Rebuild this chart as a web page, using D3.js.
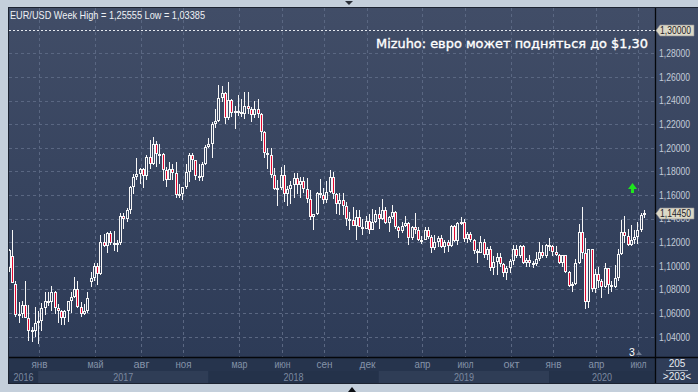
<!DOCTYPE html>
<html><head><meta charset="utf-8">
<script src="https://cdn.jsdelivr.net/npm/d3@7"></script>
<style>html,body{margin:0;padding:0;background:#c4cfdb;overflow:hidden}svg{display:block}</style>
</head><body><svg id="c" width="698" height="392"></svg>
<script>
// ---------------- DATA ----------------
const firstWeek = "2016-10-31";           // Monday of first weekly bar
const opens = [
 1.0983,1.1080,1.0850,1.0590,1.0590,1.0665,1.0560,1.0450,1.0450,
 1.0520,1.0530,1.0645,1.0700,1.0695,1.0780,1.0640,1.0615,1.0560,1.0620,1.0700,1.0740,1.0800,1.0650,1.0590,1.0615,1.0860,1.0895,1.0995,1.0930,1.1205,1.1165,1.1280,1.1195,1.1195,1.1195,1.1425,1.1400,1.1470,1.1665,1.1750,1.1775,1.1820,1.1760,1.1925,1.1860,1.2035,1.1945,1.1950,1.1815,1.1730,1.1820,1.1785,1.1600,1.1610,1.1665,1.1795,1.1935,1.1895,1.1765,1.1750,1.1860,
 1.2005,1.2030,1.2200,1.2225,1.2425,1.2460,1.2250,1.2405,1.2295,1.2310,1.2305,1.2285,1.2355,1.2325,1.2280,1.2330,1.2290,1.2130,1.1960,1.1940,1.1770,1.1655,1.1660,1.1770,1.1610,1.1655,1.1685,1.1745,1.1685,1.1720,1.1655,1.1565,1.1410,1.1440,1.1620,1.1600,1.1555,1.1625,1.1750,1.1605,1.1525,1.1560,1.1510,1.1400,1.1385,1.1340,1.1415,1.1330,1.1315,1.1380,1.1305,1.1370,
 1.1440,1.1395,1.1470,1.1365,1.1410,1.1455,1.1325,1.1295,1.1335,1.1365,1.1240,1.1325,1.1300,1.1215,1.1220,1.1300,1.1245,1.1150,1.1200,1.1235,1.1160,1.1205,1.1170,1.1335,1.1210,1.1365,1.1370,1.1225,1.1270,1.1220,1.1125,1.1110,1.1200,1.1090,1.1145,1.0985,1.1030,1.1075,1.1015,1.0940,1.0980,1.1040,1.1145,1.1080,1.1165,1.1020,1.1050,1.1020,1.1015,1.1060,1.1120,1.1080,
 1.1175,1.1165,1.1120,1.1090,1.1025,1.1090,1.0945,1.0830,1.0845,1.1025,1.1285,1.1105,1.0695,1.1140,1.0805,1.0935,1.0875,1.0820,1.0980,1.0840,1.0820,1.0900,1.1100,1.1290,1.1255,1.1180,1.1220,1.1245,1.1300,1.1430
];
const highs = [
 1.1146,1.1300,1.0870,1.0690,1.0700,1.0874,1.0670,1.0480,1.0654,
 1.0620,1.0685,1.0775,1.0775,1.0830,1.0790,1.0680,1.0630,1.0630,1.0700,1.0780,1.0905,1.0875,1.0690,1.0680,1.0780,1.0950,1.1020,1.1020,1.1265,1.1270,1.1285,1.1295,1.1295,1.1220,1.1445,1.1445,1.1490,1.1680,1.1775,1.1910,1.1830,1.1830,1.1940,1.2070,1.2090,1.2060,1.2035,1.1960,1.1835,1.1880,1.1860,1.1880,1.1690,1.1665,1.1860,1.1960,1.1960,1.1900,1.1860,1.1880,1.2020,
 1.2085,1.2215,1.2325,1.2535,1.2520,1.2475,1.2555,1.2410,1.2355,1.2445,1.2410,1.2475,1.2475,1.2345,1.2395,1.2415,1.2295,1.2145,1.1995,1.1995,1.1830,1.1725,1.1840,1.1850,1.1675,1.1720,1.1790,1.1790,1.1750,1.1750,1.1745,1.1645,1.1440,1.1625,1.1735,1.1660,1.1720,1.1815,1.1795,1.1620,1.1620,1.1620,1.1545,1.1455,1.1500,1.1475,1.1470,1.1400,1.1420,1.1440,1.1485,1.1475,
 1.1500,1.1570,1.1500,1.1420,1.1515,1.1465,1.1340,1.1370,1.1420,1.1370,1.1340,1.1450,1.1325,1.1255,1.1325,1.1325,1.1265,1.1265,1.1255,1.1265,1.1215,1.1215,1.1350,1.1350,1.1370,1.1410,1.1395,1.1285,1.1285,1.1230,1.1145,1.1250,1.1230,1.1160,1.1165,1.1085,1.1110,1.1110,1.1025,1.0995,1.1060,1.1180,1.1180,1.1175,1.1175,1.1070,1.1095,1.1045,1.1115,1.1200,1.1175,1.1185,
 1.1240,1.1180,1.1170,1.1100,1.1095,1.1095,1.0960,1.0865,1.1055,1.1355,1.1495,1.1235,1.1145,1.1145,1.0970,1.0990,1.0890,1.1020,1.0985,1.0875,1.1010,1.1145,1.1385,1.1420,1.1315,1.1350,1.1300,1.1375,1.1450,1.1470
];
const lows = [
 1.0950,1.0851,1.0570,1.0518,1.0560,1.0560,1.0367,1.0352,1.0400,
 1.0340,1.0450,1.0580,1.0660,1.0620,1.0590,1.0520,1.0495,1.0495,1.0525,1.0600,1.0730,1.0640,1.0570,1.0580,1.0600,1.0820,1.0870,1.0840,1.0920,1.1160,1.1110,1.1180,1.1130,1.1120,1.1180,1.1310,1.1370,1.1440,1.1610,1.1730,1.1690,1.1660,1.1730,1.1820,1.1850,1.1840,1.1860,1.1720,1.1670,1.1730,1.1730,1.1575,1.1575,1.1555,1.1655,1.1710,1.1810,1.1730,1.1720,1.1715,1.1850,
 1.1995,1.1915,1.2165,1.2215,1.2385,1.2205,1.2235,1.2260,1.2155,1.2270,1.2260,1.2240,1.2290,1.2215,1.2255,1.2255,1.2055,1.1910,1.1820,1.1745,1.1645,1.1510,1.1640,1.1540,1.1510,1.1525,1.1575,1.1610,1.1575,1.1615,1.1530,1.1385,1.1300,1.1430,1.1575,1.1525,1.1530,1.1620,1.1565,1.1435,1.1430,1.1430,1.1335,1.1300,1.1335,1.1215,1.1325,1.1265,1.1310,1.1270,1.1300,1.1365,
 1.1310,1.1390,1.1355,1.1290,1.1400,1.1310,1.1235,1.1275,1.1330,1.1175,1.1215,1.1270,1.1210,1.1185,1.1215,1.1225,1.1110,1.1135,1.1160,1.1155,1.1105,1.1115,1.1160,1.1205,1.1180,1.1345,1.1205,1.1195,1.1200,1.1100,1.1025,1.1105,1.1065,1.1050,1.0960,1.0925,1.0925,1.0990,1.0905,1.0880,1.0940,1.1010,1.1070,1.1070,1.1015,1.0990,1.0990,1.0980,1.1000,1.1040,1.1065,1.1065,
 1.1125,1.1085,1.1085,1.1015,1.0990,1.0940,1.0825,1.0780,1.0840,1.1015,1.1055,1.0635,1.0640,1.0780,1.0770,1.0810,1.0725,1.0810,1.0765,1.0775,1.0815,1.0870,1.1095,1.1190,1.1170,1.1170,1.1185,1.1185,1.1290,1.1405
];
const closes = [
 1.1138,1.0855,1.0588,1.0589,1.0665,1.0560,1.0450,1.0455,1.0520,
 1.0530,1.0645,1.0700,1.0695,1.0780,1.0640,1.0615,1.0560,1.0620,1.0700,1.0740,1.0800,1.0650,1.0590,1.0615,1.0725,1.0895,1.0995,1.0930,1.1205,1.1165,1.1280,1.1195,1.1195,1.1195,1.1425,1.1400,1.1470,1.1665,1.1750,1.1775,1.1820,1.1760,1.1925,1.1860,1.2035,1.1945,1.1950,1.1815,1.1730,1.1820,1.1785,1.1600,1.1610,1.1665,1.1795,1.1935,1.1895,1.1765,1.1750,1.1860,1.2005,
 1.2030,1.2200,1.2225,1.2425,1.2460,1.2250,1.2405,1.2295,1.2310,1.2305,1.2285,1.2355,1.2325,1.2280,1.2330,1.2290,1.2130,1.1960,1.1940,1.1770,1.1655,1.1660,1.1770,1.1610,1.1655,1.1685,1.1745,1.1685,1.1720,1.1655,1.1565,1.1410,1.1440,1.1620,1.1600,1.1555,1.1625,1.1750,1.1605,1.1525,1.1560,1.1510,1.1400,1.1385,1.1340,1.1415,1.1330,1.1315,1.1380,1.1305,1.1370,1.1440,
 1.1395,1.1470,1.1365,1.1410,1.1455,1.1325,1.1295,1.1335,1.1365,1.1240,1.1325,1.1300,1.1215,1.1220,1.1300,1.1245,1.1150,1.1200,1.1235,1.1160,1.1205,1.1170,1.1335,1.1210,1.1365,1.1370,1.1225,1.1270,1.1220,1.1125,1.1110,1.1200,1.1090,1.1145,1.0985,1.1030,1.1075,1.1015,1.0940,1.0980,1.1040,1.1145,1.1080,1.1165,1.1020,1.1050,1.1020,1.1015,1.1060,1.1120,1.1080,1.1175,
 1.1165,1.1120,1.1090,1.1025,1.1090,1.0945,1.0830,1.0845,1.1025,1.1285,1.1105,1.0695,1.1140,1.0805,1.0935,1.0875,1.0820,1.0980,1.0840,1.0820,1.0900,1.1100,1.1290,1.1255,1.1180,1.1220,1.1245,1.1300,1.1430,1.1445
];
const priceTicks = [1.04,1.06,1.08,1.10,1.12,1.14,1.16,1.18,1.20,1.22,1.24,1.26,1.28];
const monthTickDates = ["2017-01-02","2017-05-01","2017-08-07","2017-11-06","2018-03-05","2018-06-04","2018-09-03","2018-12-03","2019-04-01","2019-07-01","2019-10-07","2020-01-06","2020-04-06","2020-07-06"];
const monthTickLabels = ["янв","май","авг","ноя","мар","июн","сен","дек","апр","июл","окт","янв","апр","июл"];
const yearStartDates = ["2016-10-31","2017-01-02","2018-01-01","2018-12-31","2019-12-30"];
const yearLabels = ["2016","2017","2018","2019","2020"];
const targetLevel = 1.30;
const lastPrice = 1.1445;
const headerText = "EUR/USD Week High = 1,25555 Low = 1,03385";
const titleText = "Mizuho: евро может подняться до $1,30";
const barCountText = "205";
const visibleCountText = ">203<";

// ---------------- DRAW ----------------
const svg = d3.select("#c");
const parse = d3.utcParse("%Y-%m-%d");
const t0 = parse(firstWeek);
const dates = opens.map((_, i) => d3.utcMonday.offset(t0, i));
const SANS = "'Liberation Sans',Arial,sans-serif";
const fmt = v => d3.format(".5f")(v).replace(".", ",");

const plot = {l: 9, r: 655, t: 8, b: 357};
const x = d3.scaleUtc().domain([parse("2016-11-07"), parse("2020-07-20")]).range([12, 644]);
const y = d3.scaleLinear().domain([1.04, 1.30]).range([336.7, 29.7]);

const defs = svg.append("defs");
const g1 = defs.append("linearGradient").attr("id", "bg").attr("x1", 0).attr("y1", 0).attr("x2", 0).attr("y2", 1);
g1.append("stop").attr("offset", "0%").attr("stop-color", "#414d67");
g1.append("stop").attr("offset", "100%").attr("stop-color", "#2d3b57");
defs.append("clipPath").attr("id", "clip").append("rect")
  .attr("x", plot.l).attr("y", plot.t).attr("width", plot.r - plot.l).attr("height", plot.b - plot.t);

// outer frame + panel
svg.append("rect").attr("width", 698).attr("height", 392).attr("fill", "#c4cfdb");
svg.append("rect").attr("x", 8).attr("y", 7).attr("width", 691).attr("height", 377).attr("fill", "#1c2331");
svg.append("rect").attr("x", 9).attr("y", 8).attr("width", 689).attr("height", 349).attr("fill", "url(#bg)");

// bottom axis area
const axisG = svg.append("g");
axisG.append("rect").attr("x", 9).attr("y", 358).attr("width", 646).attr("height", 25).attr("fill", "#26344d");
const yStarts = yearStartDates.map(parse);
yStarts.forEach((d, i) => {
  const x0 = Math.max(plot.l, i === 0 ? plot.l : x(d));
  const x1 = i + 1 < yStarts.length ? x(yStarts[i + 1]) : plot.r;
  axisG.append("rect").attr("x", x0).attr("y", 371).attr("width", Math.max(0, x1 - x0)).attr("height", 12)
    .attr("fill", i % 2 === 1 ? "#2f3d56" : "#24324a");
  axisG.append("text").attr("x", (x0 + x1) / 2).attr("y", 380.5).attr("text-anchor", "middle")
    .attr("font-family", SANS).attr("font-size", 10.5).attr("textLength", 20).attr("lengthAdjust", "spacingAndGlyphs")
    .attr("fill", "#7c89a0").text(yearLabels[i]);
});
monthTickDates.forEach((d, i) => {
  axisG.append("text").attr("x", Math.round(x(parse(d))) + 1.5).attr("y", 368).attr("text-anchor", "middle")
    .attr("font-family", SANS).attr("font-size", 10).attr("textLength", 16).attr("lengthAdjust", "spacingAndGlyphs")
    .attr("fill", "#8593a9").text(monthTickLabels[i]);
});
// count box bottom right
svg.append("rect").attr("x", 656).attr("y", 358).attr("width", 42).attr("height", 25).attr("fill", "#2f3d58");
svg.append("text").attr("x", 677).attr("y", 367).attr("text-anchor", "middle").attr("font-family", SANS)
  .attr("font-size", 10).attr("fill", "#e8ecf2").text(barCountText);
svg.append("line").attr("x1", 666).attr("x2", 688).attr("y1", 370.5).attr("y2", 370.5).attr("stroke", "#9aa6b8");
svg.append("text").attr("x", 677).attr("y", 380).attr("text-anchor", "middle").attr("font-family", SANS)
  .attr("font-size", 10).attr("fill", "#e8ecf2").text(visibleCountText);

// grid
const grid = svg.append("g").attr("clip-path", "url(#clip)");
grid.selectAll("line.h").data(priceTicks).join("line").attr("class", "h")
  .attr("x1", plot.l).attr("x2", plot.r)
  .attr("y1", d => Math.round(y(d)) + 0.5).attr("y2", d => Math.round(y(d)) + 0.5)
  .attr("stroke", "#5a6782").attr("stroke-dasharray", "3,3");
grid.selectAll("line.v").data(monthTickDates).join("line").attr("class", "v")
  .attr("x1", d => Math.round(x(parse(d))) + 1.5).attr("x2", d => Math.round(x(parse(d))) + 1.5)
  .attr("y1", plot.t).attr("y2", plot.b)
  .attr("stroke", "#5a6782").attr("stroke-dasharray", "3,3");
grid.append("line").attr("x1", plot.l).attr("x2", plot.r)
  .attr("y1", Math.round(y(targetLevel)) + 0.5).attr("y2", Math.round(y(targetLevel)) + 0.5)
  .attr("stroke", "#e4e8ee").attr("stroke-dasharray", "2,2");

// candles
const candles = svg.append("g").attr("clip-path", "url(#clip)");
dates.forEach((d, i) => {
  const o = opens[i], h = highs[i], l = lows[i], c = closes[i];
  const px = Math.round(x(d));
  const top = Math.round(y(Math.max(o, c)));
  const bot = Math.max(top + 2, Math.round(y(Math.min(o, c))));
  const yh = Math.round(y(h)), yl = Math.round(y(l));
  if (yh < top) candles.append("line").attr("x1", px + 0.5).attr("x2", px + 0.5).attr("y1", yh).attr("y2", top)
    .attr("stroke", "#f7f7f7");
  if (yl > bot) candles.append("line").attr("x1", px + 0.5).attr("x2", px + 0.5).attr("y1", bot).attr("y2", yl)
    .attr("stroke", "#f7f7f7");
  candles.append("rect").attr("x", px - 0.5).attr("y", top + 0.5).attr("width", 2).attr("height", bot - top - 1)
    .attr("fill", c < o ? "#e3062f" : "none").attr("stroke", "#f7f7f7").attr("stroke-width", 1);
});

// axis separators
svg.append("line").attr("x1", 655.5).attr("x2", 655.5).attr("y1", 8).attr("y2", 383).attr("stroke", "#05070b").attr("stroke-width", 1.3);
svg.append("line").attr("x1", 9).attr("x2", 698).attr("y1", 357.5).attr("y2", 357.5).attr("stroke", "#05070b").attr("stroke-width", 1.5);

// right axis labels
svg.append("g").selectAll("text").data(priceTicks).join("text")
  .attr("x", 659).attr("y", d => y(d) + 3.8)
  .attr("font-family", SANS).attr("font-size", 10.5).attr("textLength", 31).attr("lengthAdjust", "spacingAndGlyphs")
  .attr("fill", "#c3ccd9").text(fmt);

function tag(v) {
  const cy = Math.round(y(v)) + 0.5;
  svg.append("path").attr("d", `M656,${cy} L660,${cy - 5.5} L694,${cy - 5.5} L694,${cy + 5.5} L660,${cy + 5.5} Z`)
    .attr("fill", "#dcd8c6").attr("stroke", "#8d8f95").attr("stroke-width", 0.6);
  svg.append("text").attr("x", 660).attr("y", cy + 3.8).attr("font-family", SANS).attr("font-size", 10.5)
    .attr("textLength", 31).attr("lengthAdjust", "spacingAndGlyphs")
    .attr("fill", "#1e2128").text(fmt(v));
}
tag(targetLevel);
tag(lastPrice);

// header + title
svg.append("text").attr("x", 10).attr("y", 18.5).attr("font-family", SANS).attr("font-size", 11)
  .attr("textLength", 195).attr("lengthAdjust", "spacingAndGlyphs")
  .attr("fill", "#eef1f5").text(headerText);
svg.append("text").attr("x", 376).attr("y", 47.5)
  .attr("font-family", "'DejaVu Sans',Verdana,sans-serif").attr("font-size", 13)
  .attr("textLength", 272).attr("lengthAdjust", "spacingAndGlyphs")
  .attr("fill", "#ffffff").attr("stroke", "#ffffff").attr("stroke-width", 0.35).text(titleText);

// green up arrow
svg.append("path").attr("d", "M632.5,183 L637,189 L634,189 L634,193 L631,193 L631,189 L628,189 Z").attr("fill", "#1ee61e");
// bottom marker "3"
svg.append("text").attr("x", 629).attr("y", 355.5).attr("font-family", SANS).attr("font-size", 10.5)
  .attr("fill", "#ffffff").text("3");
svg.append("path").attr("d", "M636,355 L639,351.5 L642,355 Z").attr("fill", "#6f7b90");
// small frame markers
svg.append("path").attr("d", "M345,1 L353,1 L349,5 Z").attr("fill", "#2a2f38");
svg.append("path").attr("d", "M348,392 L356,392 L352,387 Z").attr("fill", "#0c0f14");
</script>
</body></html>
